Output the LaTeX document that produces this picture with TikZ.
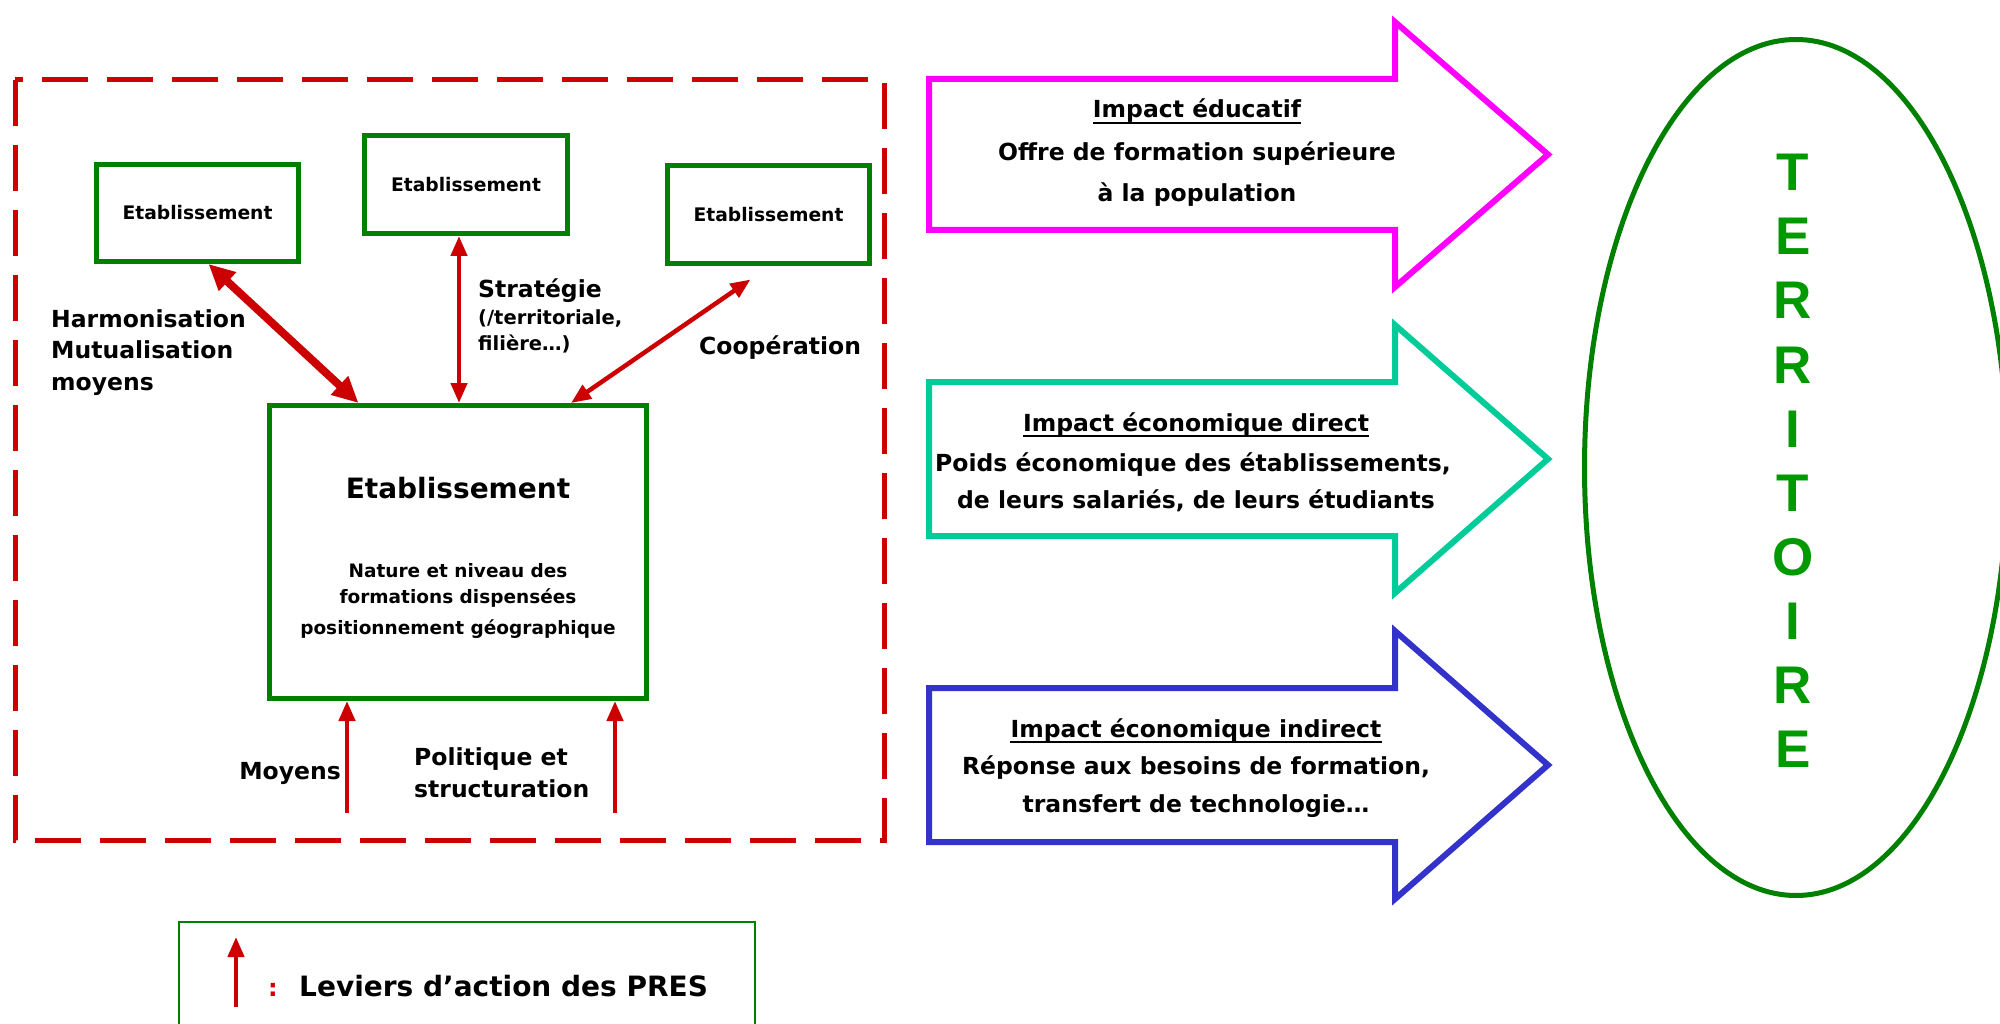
\documentclass[tikz,border=0pt]{standalone}
\usepackage{fontspec}
\setmainfont{DejaVu Sans}
\newfontfamily\terrfont{Liberation Sans}
\usetikzlibrary{arrows.meta,shapes.geometric}
\definecolor{pres}{RGB}{204,0,0}
\definecolor{boxgreen}{RGB}{0,128,0}
\definecolor{terrgreen}{RGB}{0,153,0}
\definecolor{pinkc}{RGB}{255,0,255}
\definecolor{tealc}{RGB}{0,204,153}
\definecolor{bluec}{RGB}{51,51,204}
\tikzset{
  frame/.style={draw=pres, line width=5pt, dash pattern=on 46pt off 19pt},
  etab/.style={draw=boxgreen, line width=5pt, rectangle, inner sep=0pt},
  smalltxt/.style={font=\fontsize{18.7}{22}\selectfont\bfseries},
  lbl/.style={font=\fontsize{23.5}{28}\selectfont\bfseries, inner sep=0pt},
  lbls/.style={font=\fontsize{19.5}{23}\selectfont\bfseries, inner sep=0pt},
  inbox/.style={font=\fontsize{18.5}{22}\selectfont\bfseries, inner sep=0pt, anchor=base},
  lever/.style={draw=pres, line width=4.5pt, -{Triangle[length=20pt,width=16pt]}},
  lever2/.style={draw=pres, line width=4.5pt, {Triangle[length=20pt,width=16pt]}-{Triangle[length=20pt,width=16pt]}},
  harm/.style={draw=pres, line width=8pt, {Triangle[length=26pt,width=24pt]}-{Triangle[length=26pt,width=24pt]}},
  impact/.style={draw=#1, line width=6pt, line join=miter},
  imptxt/.style={font=\fontsize{23.5}{28}\selectfont\bfseries, inner sep=0pt, anchor=base},
  terrl/.style={font=\terrfont\fontsize{53}{60}\selectfont\bfseries, text=terrgreen, inner sep=0pt, anchor=base},
  legtxt/.style={font=\fontsize{28}{32}\selectfont\bfseries, inner sep=0pt}
}
\begin{document}
\begin{tikzpicture}[x=1pt,y=-1pt]
\useasboundingbox (0,0) rectangle (2000,1024);

% dashed frame
\draw[frame] (15,80) rectangle (884,840);

% establishment boxes
\node[etab, smalltxt, minimum width=202pt, minimum height=97pt] (b1) at (197.5,213) {Etablissement};
\node[etab, smalltxt, minimum width=203pt, minimum height=98pt] (b2) at (466,184.5) {Etablissement};
\node[etab, smalltxt, minimum width=202pt, minimum height=98pt] (b3) at (768.5,214.5) {Etablissement};
\node[etab, minimum width=377pt, minimum height=293pt] (big) at (458,552) {};

\node[inbox, font=\fontsize{28}{32}\selectfont\bfseries] (bt) at (458,498) {Etablissement};
\node[inbox] (bl1) at (458,577) {Nature et niveau des};
\node[inbox] (bl2) at (458,603) {formations dispensées};
\node[inbox] (bl3) at (458,634) {positionnement géographique};

% levers between boxes
\draw[harm] ([xshift=114.5pt]b1.south west) -- ([xshift=91.5pt]big.north west);
\coordinate (s0) at ([xshift=-7pt]b2.south);
\draw[lever2] (s0) -- (s0 |- big.north);
\draw[lever2] ([xshift=85.5pt,yshift=-13.5pt]b3.south west) -- ([xshift=113pt]big.north);

\coordinate (m0) at (347,813);
\coordinate (p0) at (615,813);
\draw[lever] (m0) -- (m0 |- big.south);
\draw[lever] (p0) -- (p0 |- big.south);

% labels
\node[lbl, anchor=base west] (h1) at (51,327) {Harmonisation};
\node[lbl, anchor=base west] (h2) at (51,359) {Mutualisation};
\node[lbl, anchor=base west] (h3) at (51,390) {moyens};
\node[lbl, anchor=base west] (st1) at (478,298) {Stratégie};
\node[lbls, anchor=base west] (st2) at (478,325) {(/territoriale,};
\node[lbls, anchor=base west] (st3) at (478,350) {filière…)};
\node[lbl, anchor=base west] (coop) at (699,355) {Coopération};
\node[lbl, anchor=base east] (moy) at (341,779) {Moyens};
\node[lbl, anchor=base west] (pol1) at (414,765) {Politique et};
\node[lbl, anchor=base west] (pol2) at (414,797) {structuration};

% impact arrows
\draw[impact=pinkc] (929,79) -- (1395,79) -- (1395,22) -- (1548,154.5) -- (1395,287) -- (1395,230) -- (929,230) -- cycle;
\draw[impact=tealc] (929,382) -- (1395,382) -- (1395,325) -- (1548,459) -- (1395,593) -- (1395,536) -- (929,536) -- cycle;
\draw[impact=bluec] (929,688) -- (1395,688) -- (1395,631) -- (1548,765) -- (1395,899) -- (1395,842) -- (929,842) -- cycle;

\node[imptxt] (ie1) at (1197,118) {Impact éducatif};
\draw[line width=2pt] ([yshift=-5pt]ie1.base west) -- ([yshift=-5pt]ie1.base east);
\node[imptxt] (ie2) at (1197,161) {Offre de formation supérieure};
\node[imptxt] (ie3) at (1197,202) {à la population};

\node[imptxt] (id1) at (1196,431) {Impact économique direct};
\draw[line width=2pt] ([yshift=-5pt]id1.base west) -- ([yshift=-5pt]id1.base east);
\node[imptxt] (id2) at (1193,471) {Poids économique des établissements,};
\node[imptxt] (id3) at (1196,508) {de leurs salariés, de leurs étudiants};

\node[imptxt] (ii1) at (1196,737) {Impact économique indirect};
\draw[line width=2pt] ([yshift=-5pt]ii1.base west) -- ([yshift=-5pt]ii1.base east);
\node[imptxt] (ii2) at (1196,774) {Réponse aux besoins de formation,};
\node[imptxt] (ii3) at (1196,812) {transfert de technologie…};

% territoire
\node[draw=boxgreen, line width=5pt, ellipse, minimum width=423pt, minimum height=856pt, inner sep=0pt] (terr) at (1796,467.5) {};
\foreach \l [count=\i from 0] in {T,E,R,R,I,T,O,I,R,E}
  \node[terrl] (L\i) at (1793,191+64*\i) {\l};

% legend
\node[draw=boxgreen, line width=2pt, minimum width=576pt, minimum height=130pt, inner sep=0pt, anchor=north west] (leg) at (178,921) {};
\coordinate (la0) at (236,1007);
\coordinate (la1) at (236,937);
\draw[lever] (la0) -- (la1);
\node[legtxt, text=pres, anchor=base, font=\fontsize{24}{28}\selectfont\bfseries] (colon) at (273,996) {:};
\node[legtxt, anchor=base west] (levtxt) at (299,996) {Leviers d’action des PRES};
\end{tikzpicture}
\end{document}
